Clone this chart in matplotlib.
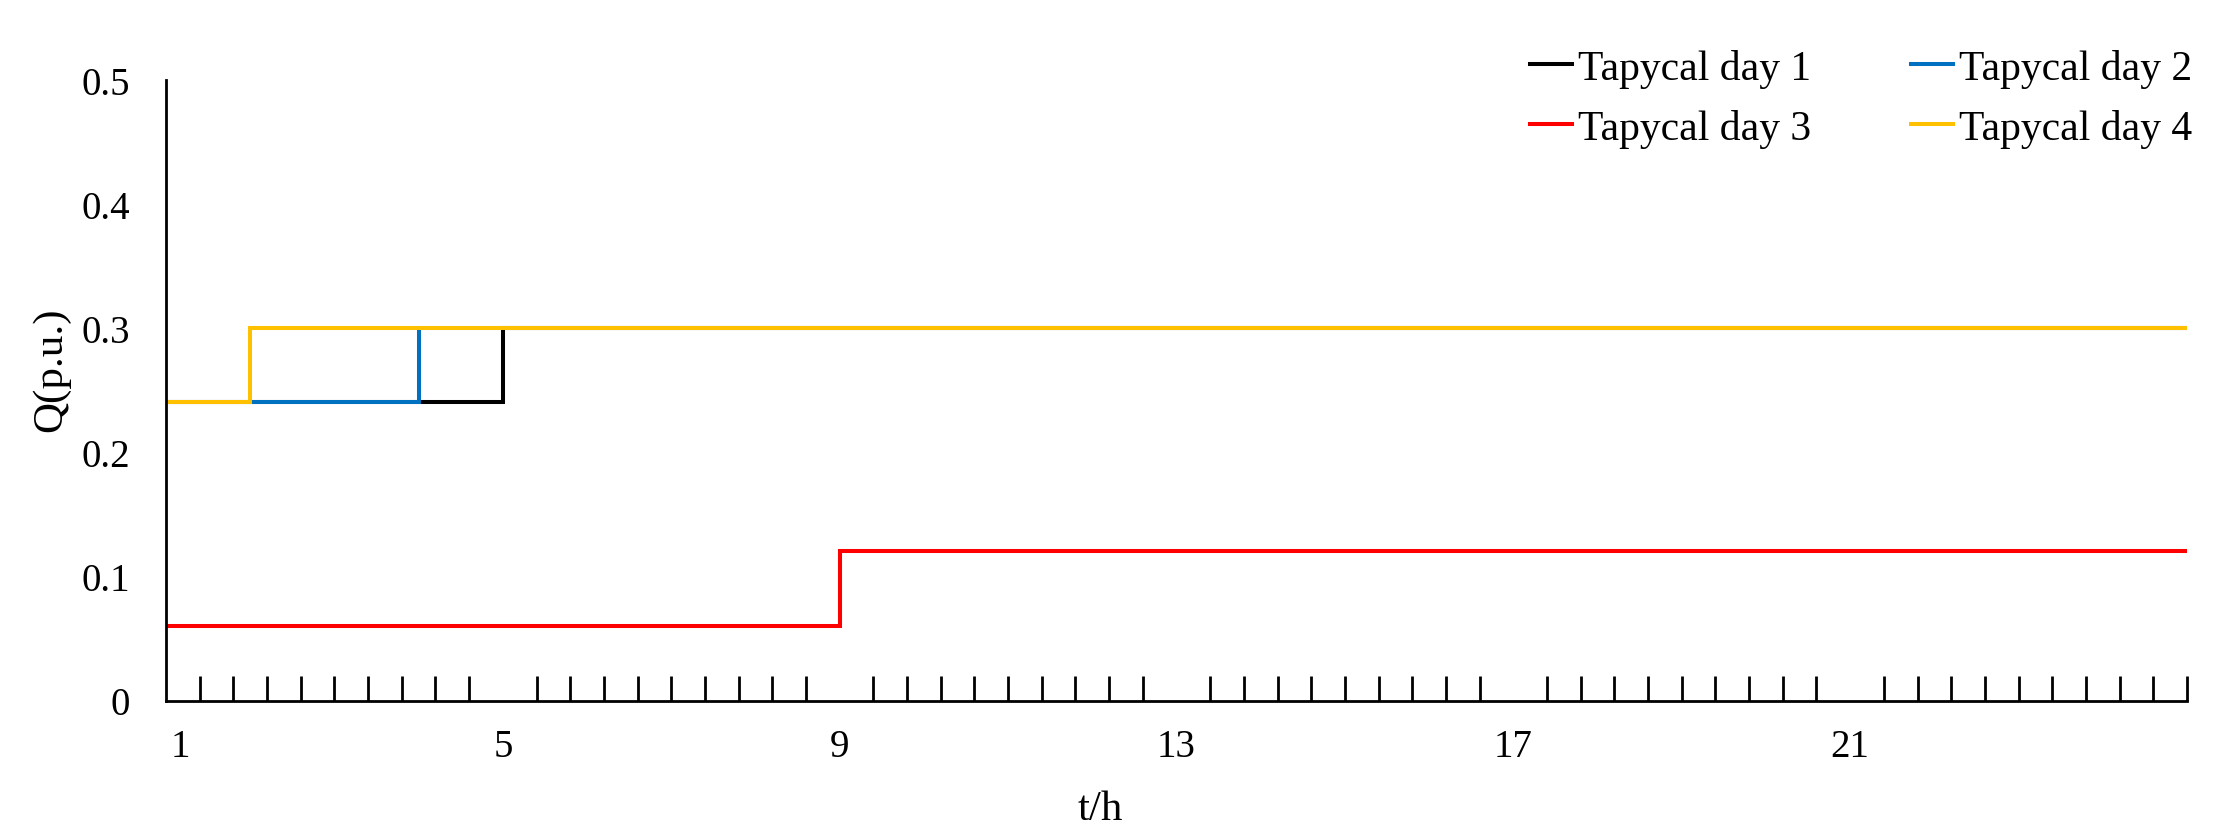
import numpy as np
import matplotlib
matplotlib.use("Agg")
import matplotlib.pyplot as plt
from matplotlib.ticker import FixedLocator, FuncFormatter
from matplotlib.transforms import ScaledTranslation

# ---- data (hourly values, hours 1..24) ----
hours = list(range(1, 25))
day1 = [0.24, 0.24, 0.24, 0.24] + [0.30] * 20
day2 = [0.24, 0.24, 0.24] + [0.30] * 21
day3 = [0.06] * 8 + [0.12] * 16
day4 = [0.24] + [0.30] * 23
labels = ["Tapycal day 1", "Tapycal day 2", "Tapycal day 3", "Tapycal day 4"]
colors = ["#000000", "#0070C0", "#FF0000", "#FFC000"]
xtick_vals = [1, 5, 9, 13, 17, 21]
ytick_vals = [0, 0.1, 0.2, 0.3, 0.4, 0.5]

plt.rcParams["font.family"] = ["Liberation Serif", "DejaVu Serif"]

W, H, DPI = 2217, 837, 100
fig = plt.figure(figsize=(W / DPI, H / DPI), dpi=DPI)
ax = fig.add_axes([166 / W, 1 - 701.5 / H, (2187 - 166) / W, (701.5 - 80.6) / H])

x_edges = hours + [hours[-1] + 1]
lines = []
for vals, lab, col in zip([day1, day2, day3, day4], labels, colors):
    ln, = ax.plot(x_edges, vals + [vals[-1]], drawstyle="steps-post", color=col,
                  lw=2.9, label=lab, solid_joinstyle="miter")
    lines.append(ln)

ax.set_xlim(1, 25)
ax.set_ylim(0, 0.5)

for s in ["top", "right"]:
    ax.spines[s].set_visible(False)
for s in ["left", "bottom"]:
    ax.spines[s].set_linewidth(2.0)
    ax.spines[s].set_color("black")

ax.xaxis.set_major_locator(FixedLocator(xtick_vals))
ax.xaxis.set_minor_locator(FixedLocator(np.arange(1.4, 25.01, 0.4)))
ax.tick_params(axis="x", which="major", length=0, pad=20, labelsize=28)
ax.tick_params(axis="x", which="minor", direction="in", length=18, width=2.0)
ax.set_yticks(ytick_vals)
ax.yaxis.set_major_formatter(FuncFormatter(lambda v, p: "%g" % v))
ax.tick_params(axis="y", length=0, pad=26, labelsize=28)

# nudge first x label like the reference
fig.canvas.draw()
xl = ax.get_xticklabels()
xl[0].set_transform(xl[0].get_transform() + ScaledTranslation(0.14, 0, fig.dpi_scale_trans))

fig.text(51 / W, 1 - 370 / H, "Q(p.u.)", rotation=90, ha="center", va="center", fontsize=31)
fig.text(1100 / W, 1 - 810 / H, "t/h", ha="center", va="center", fontsize=31)

order = [0, 2, 1, 3]
ax.legend([lines[i] for i in order], [labels[i] for i in order],
          loc="upper right", bbox_to_anchor=(2192 / W, 1 - 50 / H),
          bbox_transform=fig.transFigure, ncol=2, frameon=False, fontsize=30,
          handlelength=1.0, handletextpad=0.15, columnspacing=2.4,
          borderpad=0, borderaxespad=0, labelspacing=0.5)

fig.savefig("out.png", dpi=DPI)
